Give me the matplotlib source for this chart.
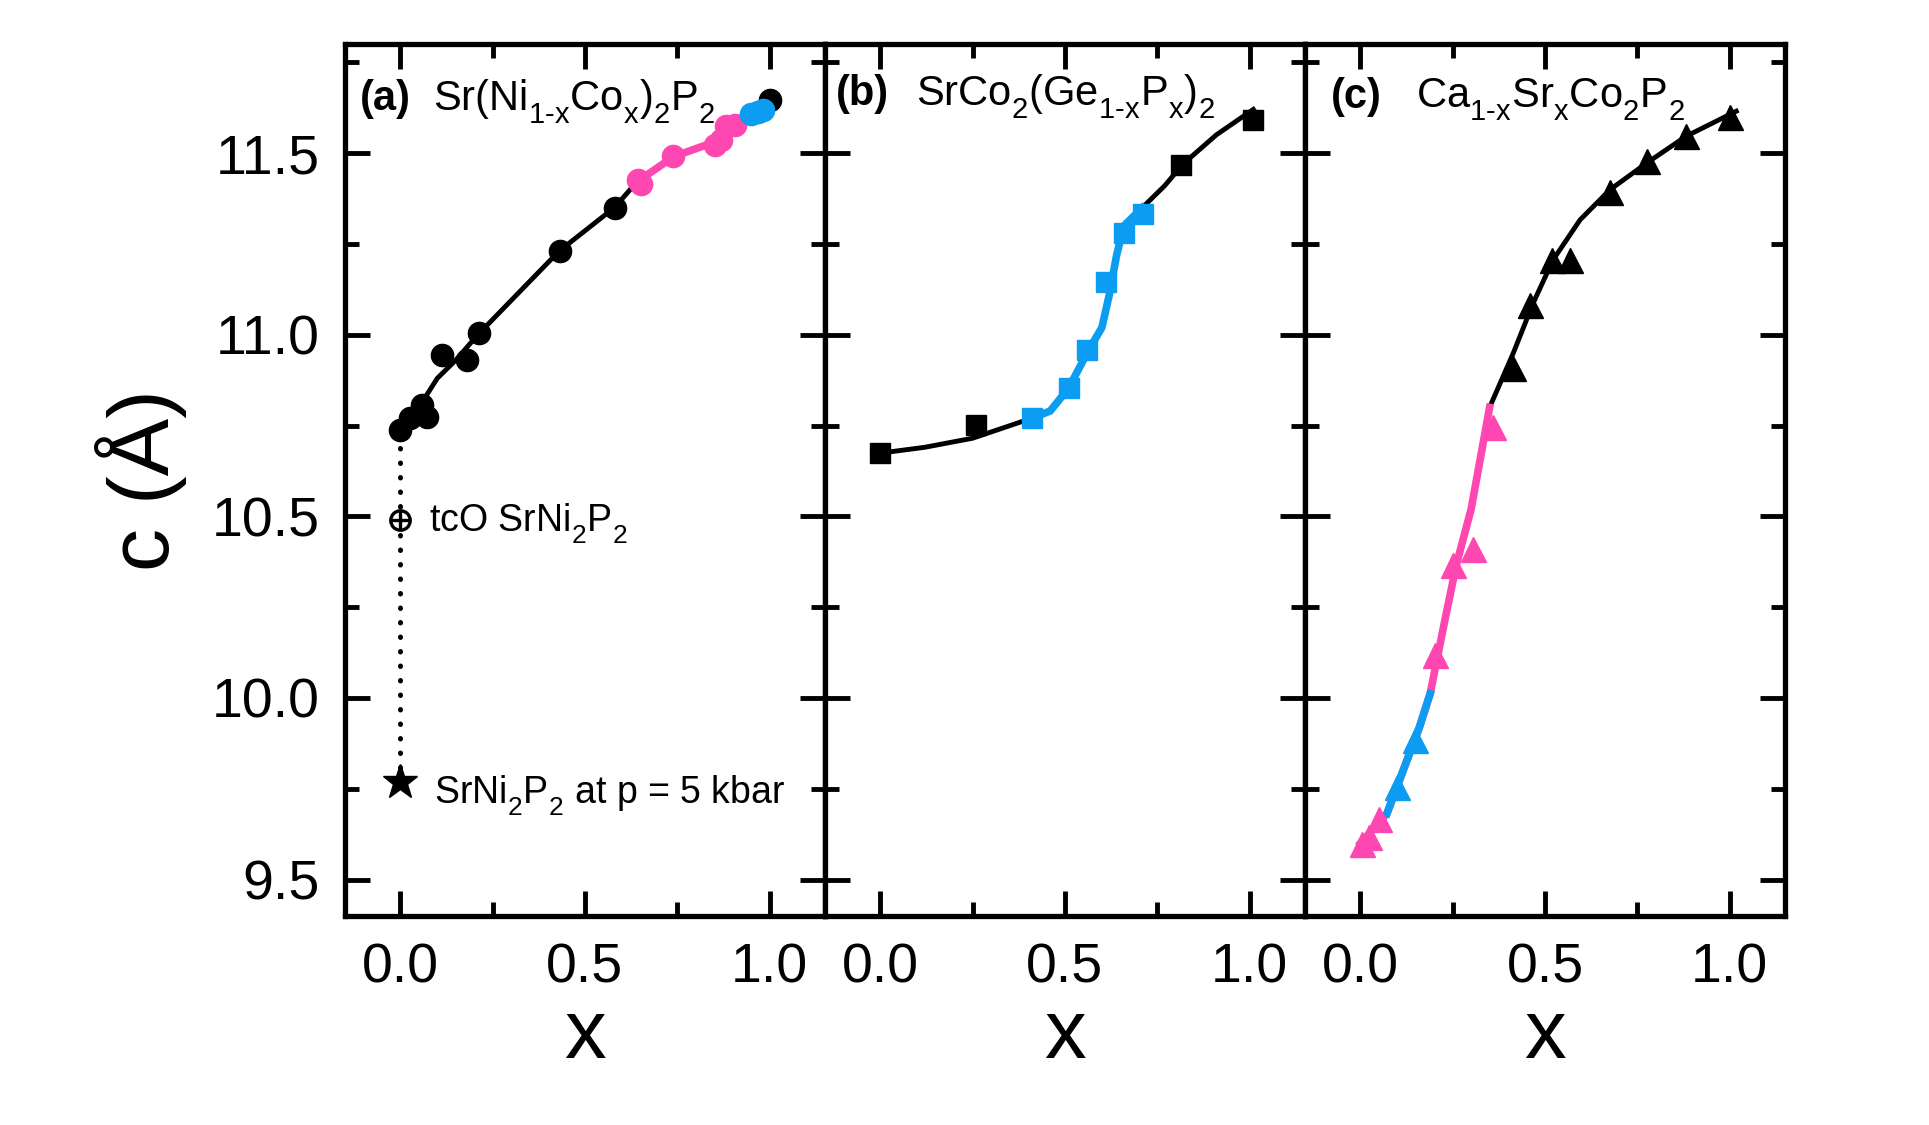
import matplotlib
matplotlib.use('Agg')
import matplotlib.pyplot as plt
from matplotlib.ticker import MultipleLocator

plt.rcParams['font.family'] = ['Liberation Sans', 'DejaVu Sans']
plt.rcParams['mathtext.fontset'] = 'custom'
plt.rcParams['mathtext.rm'] = 'Liberation Sans'
plt.rcParams['mathtext.it'] = 'Liberation Sans:italic'
plt.rcParams['mathtext.bf'] = 'Liberation Sans:bold'
plt.rcParams['mathtext.default'] = 'regular'

# lower subscripts a little, like the reference typesetting
try:
    from matplotlib import _mathtext
    _mathtext.FontConstantsBase.sub1 = 0.6
    _mathtext.FontConstantsBase.sub2 = 0.7
except Exception:
    pass

PINK = '#FF47B1'
BLUE = '#0C9CF2'

# ---------------- Panel (a): Sr(Ni1-xCox)2P2 ----------------
a_black_x = [0.0, 0.027, 0.059, 0.072, 0.113, 0.18, 0.212, 0.432, 0.581, 1.0]
a_black_y = [10.738, 10.77, 10.807, 10.774, 10.944, 10.931, 11.004, 11.229, 11.348, 11.647]
a_pink_x = [0.644, 0.652, 0.739, 0.851, 0.869, 0.883, 0.905]
a_pink_y = [11.426, 11.415, 11.491, 11.523, 11.535, 11.573, 11.578]
a_blue_x = [0.95, 0.968, 0.982]
a_blue_y = [11.606, 11.614, 11.619]
a_curve_x = [0.0, 0.05, 0.10, 0.15, 0.21, 0.43, 0.58, 0.64, 0.74, 0.85, 0.89, 0.93, 1.0]
a_curve_y = [10.74, 10.80, 10.88, 10.93, 11.00, 11.23, 11.35, 11.42, 11.49, 11.53, 11.565, 11.60, 11.645]
tco_x, tco_y = 0.0, 10.49
press_x, press_y = 0.0, 9.77

# ---------------- Panel (b): SrCo2(Ge1-xPx)2 ----------------
b_black_x = [0.0, 0.26, 0.815, 1.01]
b_black_y = [10.674, 10.752, 11.468, 11.592]
b_blue_x = [0.41, 0.51, 0.56, 0.61, 0.66, 0.71]
b_blue_y = [10.77, 10.853, 10.958, 11.144, 11.28, 11.333]
b_curve_x = [0.0, 0.12, 0.25, 0.41, 0.46, 0.51, 0.56, 0.60, 0.62, 0.64, 0.66, 0.71, 0.77, 0.82, 0.91, 1.01]
b_curve_y = [10.674, 10.69, 10.715, 10.77, 10.79, 10.853, 10.95, 11.02, 11.11, 11.22, 11.30, 11.35, 11.41, 11.47, 11.55, 11.62]

# ---------------- Panel (c): Ca1-xSrxCo2P2 ----------------
c_black_x = [0.413, 0.459, 0.518, 0.568, 0.676, 0.775, 0.882, 1.0]
c_black_y = [10.908, 11.082, 11.206, 11.206, 11.394, 11.477, 11.546, 11.60]
c_pink_x = [0.005, 0.022, 0.05, 0.203, 0.252, 0.306, 0.36]
c_pink_y = [9.598, 9.617, 9.668, 10.118, 10.367, 10.409, 10.747]
c_blue_x = [0.099, 0.149]
c_blue_y = [9.755, 9.884]
c_curve_x = [0.0, 0.072, 0.16, 0.189, 0.23, 0.26, 0.30, 0.35, 0.414, 0.468, 0.522, 0.595, 0.676, 0.775, 0.882, 1.018]
c_curve_y = [9.60, 9.682, 9.92, 10.012, 10.22, 10.367, 10.52, 10.80, 10.949, 11.087, 11.206, 11.316, 11.399, 11.472, 11.546, 11.615]

fig = plt.figure(figsize=(19.29, 11.25), dpi=100)

W = 480 / 1929
B = 1 - 916 / 1125
H = 872 / 1125
lefts = [345 / 1929, 825 / 1929, 1305 / 1929]
axes = [fig.add_axes([l, B, W, H]) for l in lefts]


def style(ax, first):
    ax.set_xlim(-0.15, 1.15)
    ax.set_ylim(9.4, 11.8)
    ax.xaxis.set_major_locator(MultipleLocator(0.5))
    ax.xaxis.set_minor_locator(MultipleLocator(0.25))
    ax.yaxis.set_major_locator(MultipleLocator(0.5))
    ax.yaxis.set_minor_locator(MultipleLocator(0.25))
    ax.tick_params(which='both', direction='in', top=True, right=True, width=3.5)
    ax.tick_params(which='major', length=18)
    ax.tick_params(which='minor', length=10)
    ax.tick_params(axis='x', labelsize=40, pad=19)
    ax.tick_params(axis='y', labelsize=40, pad=18)
    for s in ax.spines.values():
        s.set_linewidth(3.8)
    if not first:
        ax.tick_params(labelleft=False)
    ax.set_xlabel('x', fontsize=60, labelpad=2)


for i, ax in enumerate(axes):
    style(ax, i == 0)

axes[0].set_ylabel('c (Å)', fontsize=62, labelpad=18)

# ---- Panel a drawing ----
ax = axes[0]
ax.plot([press_x, a_black_x[0]], [press_y, a_black_y[0]], color='black', lw=3.6,
        linestyle=(0, (0.1, 2.8)), dash_capstyle='round', zorder=1)
ax.plot(a_curve_x, a_curve_y, color='black', lw=3.5, zorder=2)
ax.plot(a_curve_x[7:12], a_curve_y[7:12], color=PINK, lw=5.5, zorder=2.1)
ax.plot(a_curve_x[11:], a_curve_y[11:], color=BLUE, lw=5.5, zorder=2.2)
ax.plot(a_black_x, a_black_y, 'o', color='black', ms=16, zorder=3)
ax.plot(a_pink_x, a_pink_y, 'o', color=PINK, ms=16, zorder=3.1)
ax.plot(a_blue_x, a_blue_y, 'o', color=BLUE, ms=16, zorder=3.2)
ax.plot([tco_x], [tco_y], 'o', mfc='white', mec='black', mew=2.4, ms=14, zorder=3)
ax.plot([tco_x], [tco_y], '+', color='black', mew=2.4, ms=14, zorder=3.1)
ax.plot([press_x], [press_y], '*', color='black', ms=26, zorder=3)
ax.text(0.077, 10.458, 'tcO SrNi$_2$P$_2$', fontsize=27, va='baseline')
ax.text(0.09, 9.709, 'SrNi$_2$P$_2$ at p = 5 kbar', fontsize=27, va='baseline')
ax.text(0.031, 0.924, '(a)', fontsize=30, fontweight='bold', va='baseline', transform=ax.transAxes)
ax.text(0.183, 0.924, r'Sr(Ni$_{1\text{-}x}$Co$_x$)$_2$P$_2$', fontsize=30, va='baseline',
        transform=ax.transAxes)

# ---- Panel b drawing ----
ax = axes[1]
ax.plot(b_curve_x, b_curve_y, color='black', lw=3.5, zorder=2)
ax.plot(b_curve_x[3:12], b_curve_y[3:12], color=BLUE, lw=5.5, zorder=2.1)
ax.plot(b_black_x, b_black_y, 's', color='black', ms=14, zorder=3)
ax.plot(b_blue_x, b_blue_y, 's', color=BLUE, ms=14, zorder=3.1)
ax.text(0.023, 0.930, '(b)', fontsize=30, fontweight='bold', va='baseline', transform=ax.transAxes)
ax.text(0.19, 0.930, r'SrCo$_2$(Ge$_{1\text{-}x}$P$_x$)$_2$', fontsize=30, va='baseline',
        transform=ax.transAxes)

# ---- Panel c drawing ----
ax = axes[2]
ax.plot(c_curve_x, c_curve_y, color='black', lw=3.5, zorder=2)
ax.plot(c_curve_x[:8], c_curve_y[:8], color=PINK, lw=5.5, zorder=2.1)
ax.plot(c_curve_x[1:4], c_curve_y[1:4], color=BLUE, lw=5.5, zorder=2.2)
ax.plot(c_black_x, c_black_y, '^', color='black', ms=18, zorder=3)
ax.plot(c_pink_x, c_pink_y, '^', color=PINK, ms=18, zorder=3.1)
ax.plot(c_blue_x, c_blue_y, '^', color=BLUE, ms=18, zorder=3.2)
ax.text(0.054, 0.927, '(c)', fontsize=30, fontweight='bold', va='baseline', transform=ax.transAxes)
ax.text(0.232, 0.927, r'Ca$_{1\text{-}x}$Sr$_x$Co$_2$P$_2$', fontsize=30, va='baseline',
        transform=ax.transAxes)

fig.savefig('out.png', dpi=100)
